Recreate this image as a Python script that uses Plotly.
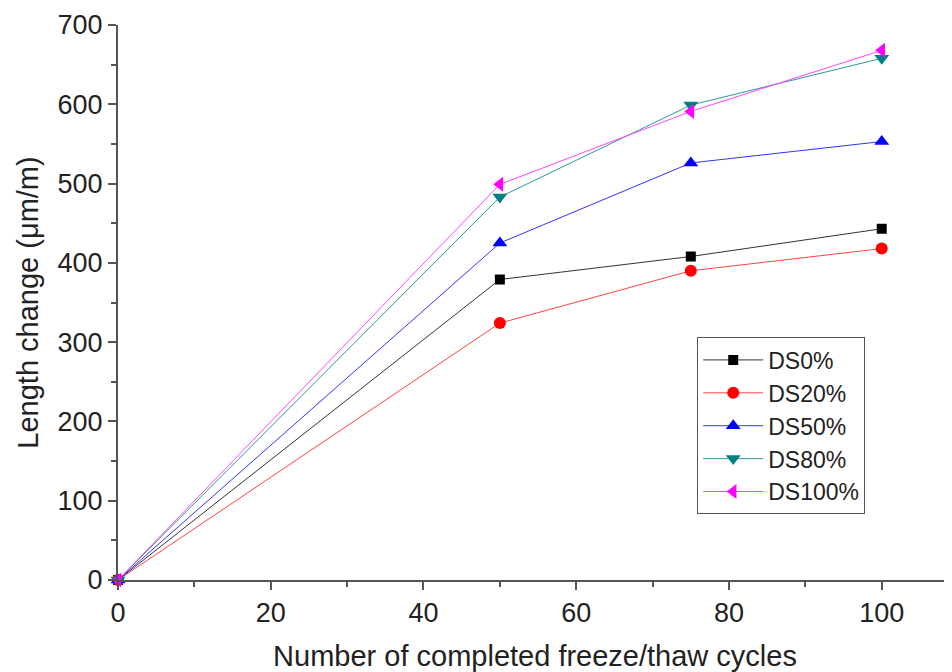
import plotly.graph_objects as go

cycles = [0, 50, 75, 100]
series_names = ["DS0%", "DS20%", "DS50%", "DS80%", "DS100%"]
ds0 = [0, 379, 408, 443]
ds20 = [0, 324, 390, 418]
ds50 = [0, 425, 526, 553]
ds80 = [0, 483, 599, 658]
ds100 = [0, 499, 591, 668]

values = [ds0, ds20, ds50, ds80, ds100]
colors = ["#000000", "#ff0000", "#0000ff", "#008080", "#ff00ff"]
line_colors = ["#333333", "#ff4444", "#3333ff", "#2a9a9a", "#ff44ff"]
symbols = ["square", "circle", "triangle-up", "triangle-down", "triangle-left"]
sizes = [10, 12, 13, 13, 13]

FONT = "Liberation Sans, Arial, sans-serif"
TXT = "#222222"
AX = "#555555"

fig = go.Figure()
for name, v, c, lc, s, sz in zip(series_names, values, colors, line_colors, symbols, sizes):
    fig.add_trace(go.Scatter(
        x=cycles, y=v, name=name, mode="lines+markers",
        line=dict(color=lc, width=1),
        marker=dict(color=c, symbol=s, size=sz, line=dict(width=0)),
        cliponaxis=False,
    ))

fig.update_layout(
    width=944, height=664,
    margin=dict(l=110, r=0, t=17, b=92),
    paper_bgcolor="white", plot_bgcolor="white",
    font=dict(family=FONT, size=27, color=TXT),
    showlegend=True,
    legend=dict(
        x=0.6945, y=0.437, xanchor="left", yanchor="top",
        bordercolor=AX, borderwidth=1, bgcolor="white",
        font=dict(family=FONT, size=23, color=TXT),
        tracegroupgap=0, itemwidth=60,
    ),
    xaxis=dict(
        range=[0, 109.2], tickvals=[0, 20, 40, 60, 80, 100],
        showgrid=False, zeroline=False, automargin=False,
        showline=True, linecolor=AX, linewidth=2,
        ticks="outside", ticklen=8, tickwidth=2, tickcolor=AX,
        minor=dict(ticks="outside", ticklen=5, tickwidth=2, tickcolor=AX, dtick=10, tick0=0),
        tickfont=dict(family=FONT, size=27, color=TXT),
        title=dict(text="Number of completed freeze/thaw cycles",
                   font=dict(family=FONT, size=29, color=TXT), standoff=20),
    ),
    yaxis=dict(
        range=[0, 700], tickvals=[0, 100, 200, 300, 400, 500, 600, 700],
        showgrid=False, zeroline=False, automargin=False,
        showline=True, linecolor=AX, linewidth=2,
        ticks="outside", ticklen=8, tickwidth=2, tickcolor=AX,
        minor=dict(ticks="outside", ticklen=5, tickwidth=2, tickcolor=AX, dtick=50, tick0=0),
        tickfont=dict(family=FONT, size=27, color=TXT),
        title=dict(text="Length change (μm/m)",
                   font=dict(family=FONT, size=29, color=TXT), standoff=10),
    ),
)

fig.write_html("out.html")
